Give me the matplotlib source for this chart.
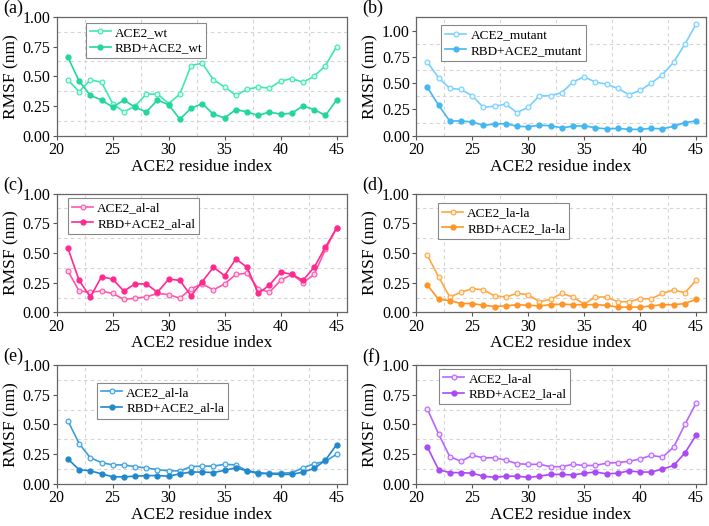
import numpy as np
import matplotlib
matplotlib.use("Agg")
import matplotlib.pyplot as plt
from matplotlib.ticker import MultipleLocator, FormatStrFormatter
from matplotlib import font_manager

SERIF_PATH = font_manager.findfont(font_manager.FontProperties(family="Liberation Serif"))

def fp(size):
    return font_manager.FontProperties(fname=SERIF_PATH, size=size)

residues = list(range(21, 46))

ace2_wt = [0.47, 0.37, 0.47, 0.45, 0.27, 0.20, 0.25, 0.35, 0.35, 0.27, 0.35, 0.59, 0.61,
           0.47, 0.41, 0.34, 0.39, 0.41, 0.40, 0.46, 0.48, 0.45, 0.50, 0.59, 0.75]
rbd_wt = [0.66, 0.46, 0.34, 0.30, 0.24, 0.30, 0.24, 0.20, 0.30, 0.26, 0.14, 0.23, 0.27,
          0.18, 0.15, 0.22, 0.20, 0.17, 0.20, 0.18, 0.19, 0.25, 0.22, 0.17, 0.30]

ace2_mut = [0.70, 0.55, 0.45, 0.44, 0.38, 0.27, 0.28, 0.30, 0.22, 0.27, 0.38, 0.38, 0.41,
            0.51, 0.56, 0.51, 0.49, 0.45, 0.39, 0.43, 0.50, 0.58, 0.70, 0.87, 1.06]
rbd_mut = [0.46, 0.29, 0.14, 0.14, 0.13, 0.10, 0.11, 0.115, 0.09, 0.085, 0.10, 0.095, 0.075,
           0.09, 0.095, 0.075, 0.065, 0.07, 0.06, 0.06, 0.07, 0.065, 0.09, 0.125, 0.14]

ace2_alal = [0.35, 0.18, 0.17, 0.18, 0.16, 0.11, 0.12, 0.13, 0.16, 0.15, 0.12, 0.20, 0.24,
             0.19, 0.24, 0.32, 0.33, 0.20, 0.17, 0.27, 0.32, 0.25, 0.32, 0.53, 0.71]
rbd_alal = [0.54, 0.27, 0.13, 0.30, 0.28, 0.18, 0.24, 0.24, 0.17, 0.28, 0.27, 0.14, 0.26,
            0.38, 0.31, 0.45, 0.38, 0.16, 0.23, 0.34, 0.32, 0.27, 0.38, 0.55, 0.71]

ace2_lala = [0.48, 0.30, 0.13, 0.17, 0.20, 0.19, 0.14, 0.13, 0.16, 0.15, 0.09, 0.11, 0.16,
             0.13, 0.07, 0.13, 0.13, 0.09, 0.09, 0.115, 0.115, 0.16, 0.19, 0.165, 0.27]
rbd_lala = [0.23, 0.11, 0.10, 0.075, 0.075, 0.06, 0.05, 0.055, 0.065, 0.06, 0.055, 0.065, 0.07,
            0.065, 0.065, 0.065, 0.06, 0.045, 0.045, 0.045, 0.055, 0.065, 0.065, 0.075, 0.11]

ace2_alla = [0.53, 0.34, 0.22, 0.18, 0.16, 0.16, 0.145, 0.135, 0.12, 0.11, 0.11, 0.145, 0.15,
             0.15, 0.165, 0.16, 0.11, 0.085, 0.09, 0.09, 0.095, 0.135, 0.17, 0.19, 0.25]
rbd_alla = [0.21, 0.12, 0.11, 0.085, 0.06, 0.06, 0.065, 0.07, 0.07, 0.065, 0.085, 0.10, 0.10,
            0.095, 0.115, 0.135, 0.11, 0.095, 0.085, 0.08, 0.08, 0.10, 0.13, 0.20, 0.33]

ace2_laal = [0.63, 0.42, 0.23, 0.19, 0.24, 0.22, 0.22, 0.20, 0.17, 0.165, 0.165, 0.145, 0.145,
             0.165, 0.155, 0.155, 0.175, 0.18, 0.19, 0.21, 0.24, 0.225, 0.31, 0.50, 0.68]
rbd_laal = [0.31, 0.12, 0.095, 0.095, 0.09, 0.065, 0.055, 0.065, 0.065, 0.055, 0.065, 0.08, 0.08,
            0.075, 0.09, 0.10, 0.085, 0.09, 0.11, 0.10, 0.10, 0.125, 0.155, 0.26, 0.41]

# (tag, ace2 label, ace2 data, rbd label, rbd data, light color, dark color, pale fill, ymax, legend anchor)
panels = [
    ("(a)", "ACE2_wt", ace2_wt, "RBD+ACE2_wt", rbd_wt, "#3ee8b0", "#22d69c", "#d8fff0", 1.0, (0.10, 0.95)),
    ("(b)", "ACE2_mutant", ace2_mut, "RBD+ACE2_mutant", rbd_mut, "#77d0ff", "#44b6f2", "#eaf8ff", 1.13, (0.087, 0.93)),
    ("(c)", "ACE2_al-al", ace2_alal, "RBD+ACE2_al-al", rbd_alal, "#ff55aa", "#ff2a90", "#ffd8ee", 1.0, (0.04, 0.96)),
    ("(d)", "ACE2_la-la", ace2_lala, "RBD+ACE2_la-la", rbd_lala, "#ffa640", "#ff9526", "#fff0dc", 1.0, (0.076, 0.92)),
    ("(e)", "ACE2_al-la", ace2_alla, "RBD+ACE2_al-la", rbd_alla, "#3a9ede", "#2288cc", "#e2f2ff", 1.0, (0.14, 0.85)),
    ("(f)", "ACE2_la-al", ace2_laal, "RBD+ACE2_la-al", rbd_laal, "#b866ff", "#a94af5", "#f2e4ff", 1.0, (0.08, 0.97)),
]

fig = plt.figure(figsize=(7.09, 5.26), dpi=100)
lefts = [0.080, 0.587]
bottoms = [0.742, 0.406, 0.080]
w, h = 0.409, 0.226

for i, (tag, l1, d1, l2, d2, c1, c2, pale, ymax, anchor) in enumerate(panels):
    r, c = divmod(i, 2)
    ax = fig.add_axes([lefts[c], bottoms[r], w, h])
    ax.plot(residues, d1, "-o", color=c1, lw=1.2, ms=3.5, mfc=pale, mec=c1, mew=0.8, label=l1)
    ax.plot(residues, d2, "-o", color=c2, lw=1.2, ms=3.5, mfc=c2, mec=c2, label=l2)
    ax.set_xlim(20, 45.9)
    ax.set_ylim(0, ymax)
    ax.xaxis.set_major_locator(MultipleLocator(5))
    ax.yaxis.set_major_locator(MultipleLocator(0.25))
    ax.xaxis.set_minor_locator(MultipleLocator(2.5))
    ax.yaxis.set_minor_locator(MultipleLocator(0.125))
    ax.yaxis.set_major_formatter(FormatStrFormatter("%.2f"))
    ax.grid(which="minor", ls=(0, (3, 3)), color="#d4d4d4", lw=0.8)
    ax.tick_params(which="major", direction="out", length=3, width=0.8, color="#555",
                   top=False, right=False, pad=1.5)
    ax.tick_params(which="minor", length=0)
    for s in ax.spines.values():
        s.set_color("#666")
        s.set_linewidth(0.9)
    fig.canvas.draw()
    for lab in ax.get_xticklabels() + ax.get_yticklabels():
        lab.set_fontproperties(fp(11.5))
    ax.set_xlabel("ACE2 residue index", fontproperties=fp(12.5), labelpad=0.5)
    ax.set_ylabel("RMSF (nm)", fontproperties=fp(12.5), labelpad=2.5)
    leg = ax.legend(loc="upper left", bbox_to_anchor=anchor, prop=fp(9.5), fancybox=False,
                    edgecolor="#888", framealpha=1, handlelength=1.6, handletextpad=0.3,
                    borderpad=0.3, labelspacing=0.25, borderaxespad=0)
    leg.get_frame().set_linewidth(0.8)
    fig.text(lefts[c] - 0.076, bottoms[r] + h + 0.016, tag, fontproperties=fp(13), va="center")

fig.savefig("out.png", dpi=100, facecolor="white")
